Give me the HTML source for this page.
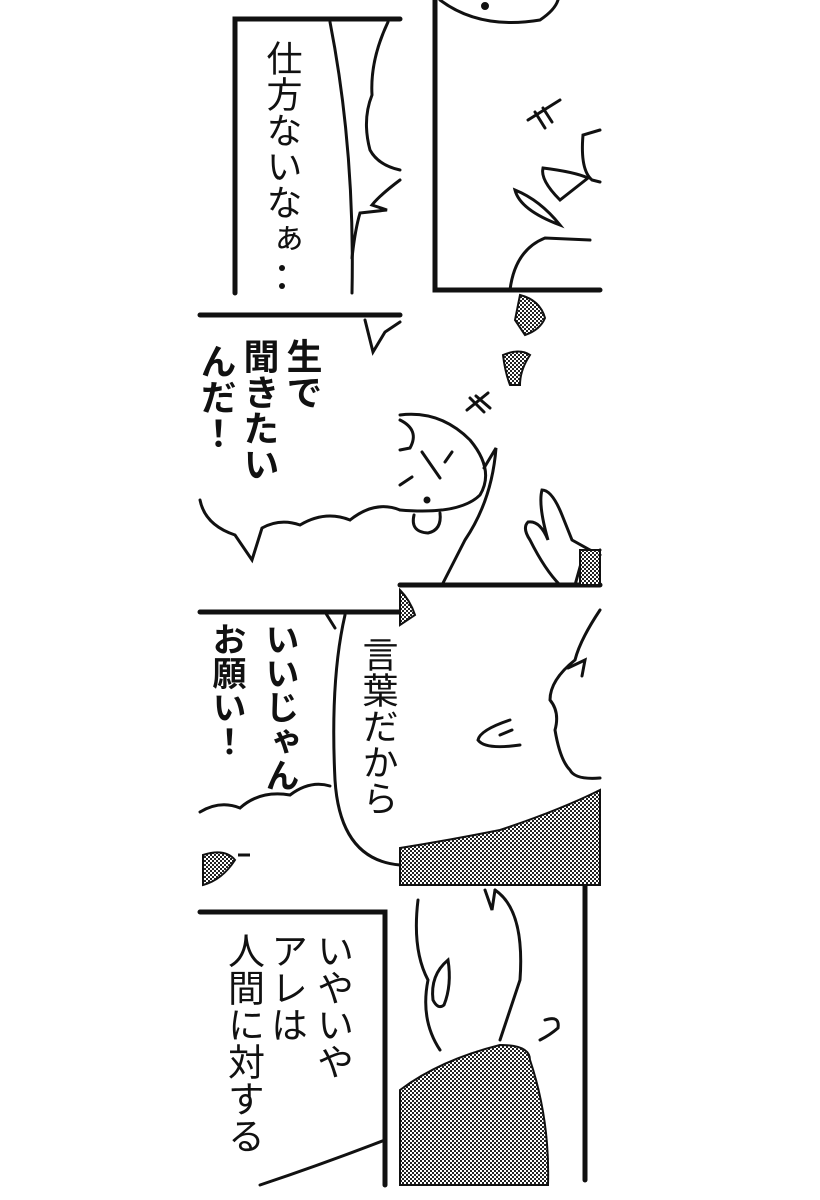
<!DOCTYPE html>
<html><head><meta charset="utf-8"><style>
html,body{margin:0;padding:0;background:#fff;}
svg{display:block}
.t{font-family:"Liberation Sans","Noto Sans CJK JP",sans-serif;writing-mode:vertical-rl;fill:#111;}
</style></head><body>
<svg width="820" height="1200" viewBox="0 0 820 1200" xmlns="http://www.w3.org/2000/svg">
<defs>
<pattern id="ht" width="4" height="4" patternUnits="userSpaceOnUse">
<rect width="4" height="4" fill="#fff"/><rect width="2" height="2" fill="#222"/><rect x="2" y="2" width="2" height="2" fill="#222"/>
</pattern>
</defs>
<rect width="820" height="1200" fill="#fff"/>
<g fill="none" stroke="#111" stroke-width="3" stroke-linecap="round">
<!-- Tile A -->
<path d="M235 293 V19 H400" stroke-width="5"/>
<path d="M330 22 Q355 150 352 293"/>
<path d="M388 22 Q370 60 372 95 Q362 120 370 150 Q378 165 400 170"/>
<path d="M400 180 Q380 195 372 205 L387 210 L360 213 Q355 230 352 258"/>
<!-- Tile B -->
<path d="M435 0 V290 H600" stroke-width="5"/>
<path d="M440 0 Q480 30 540 20 Q555 10 558 0"/>
<circle cx="485" cy="6" r="2.5" fill="#111"/>
<path d="M528 120 L560 100 M535 112 L545 128 M543 108 L552 122"/>
<path d="M600 130 L583 135 Q580 170 592 180 L600 182"/>
<path d="M543 168 Q575 172 588 178 L560 200 Q540 180 543 168 Z"/>
<path d="M515 190 Q520 210 560 225 Q540 200 515 190 Z"/>
<path d="M510 290 Q515 250 545 238 L590 240"/>
<!-- Tile C -->
<path d="M200 315 H400" stroke-width="5"/>
<path d="M365 320 L373 352 L385 332 L400 322"/>
<path d="M200 500 Q205 525 235 535 L252 560 L262 528 Q280 518 300 525 Q325 510 350 520 Q375 500 400 510"/>
<!-- Tile D -->
<path d="M400 585 H600" stroke-width="5"/>
<path d="M400 415 Q440 410 470 440 Q495 470 480 495 Q460 515 400 510"/>
<path d="M400 420 Q420 430 410 448 L400 450"/>
<path d="M422 452 L440 478 M452 452 L445 462 M400 485 L412 477"/>
<circle cx="427" cy="500" r="2" fill="#111"/>
<path d="M414 515 Q410 532 428 533 Q442 530 440 513"/>
<path d="M484 468 L496 448 Q492 500 465 540 L442 585"/>
<path d="M467 410 L488 393 M470 398 L484 412 M476 396 L490 408"/>
<path d="M560 585 Q545 570 530 540 Q522 528 528 522 Q540 520 548 540 Q538 505 542 490 Q552 490 562 515 L572 540 L590 550 L600 555"/>
<path d="M575 585 L582 560 L600 550"/>
<!-- Tile E -->
<path d="M200 612 H400" stroke-width="5"/>
<path d="M325 612 L335 628"/>
<path d="M200 812 Q220 800 240 808 Q260 790 290 795 Q310 780 330 786"/>
<path d="M345 615 Q330 680 335 780 Q340 860 400 865"/>
<!-- Tile F -->
<path d="M600 610 Q580 640 575 660 Q550 680 550 700 Q560 712 555 730 Q560 760 570 770 Q575 780 600 778"/>
<path d="M510 720 Q480 730 478 740 Q485 750 520 745 M500 735 L512 730"/>
<path d="M568 668 L585 660 L582 676"/>
<!-- Tile G -->
<path d="M200 912 H385 V1185" stroke-width="5"/>
<path d="M260 1185 Q320 1165 385 1140"/>
<!-- Tile H -->
<path d="M585 885 V1180" stroke-width="5"/>
<path d="M485 890 L492 910 L495 890"/>
<path d="M495 890 Q525 910 520 980 Q510 1010 500 1040"/>
<path d="M418 900 Q412 950 428 980 Q420 1020 440 1050"/>
<path d="M448 960 Q430 975 433 1000 Q438 1010 444 1005 Q452 985 448 960 Z"/>
<path d="M545 1020 Q560 1015 558 1028 Q550 1035 540 1040"/>
</g>
<!-- halftones -->
<g fill="url(#ht)" stroke="#111" stroke-width="2">
<path d="M400 885 V848 Q450 840 500 830 Q560 810 600 790 V885 Z"/>
<path d="M400 1090 Q440 1060 500 1045 Q530 1045 530 1060 Q550 1120 548 1185 H400 Z"/>
<rect x="580" y="550" width="20" height="35"/>
<path d="M520 295 Q540 300 545 318 Q540 330 525 335 L515 320 Z"/>
<path d="M503 355 Q520 348 530 355 Q520 370 520 385 L510 385 Q505 372 503 355 Z"/>
<path d="M203 855 Q225 848 235 860 Q222 880 203 885 Z"/>
<path d="M400 590 Q410 600 415 615 L400 625 Z"/>
</g>
<g stroke="#111" stroke-width="3"><path d="M238 855 L250 855"/></g>
<!-- texts -->
<text class="t" x="282" y="40" font-size="36">仕方ないなぁ</text>
<circle cx="282" cy="268" r="3" fill="#111"/><circle cx="282" cy="286" r="3" fill="#111"/>
<text class="t" x="302" y="338" font-size="36" font-weight="bold">生で</text>
<text class="t" x="259" y="338" font-size="36" font-weight="bold">聞きたい</text>
<text class="t" x="216" y="343" font-size="36" font-weight="bold">んだ！</text>
<text class="t" x="279" y="622" font-size="34" font-weight="bold">いいじゃん</text>
<text class="t" x="226" y="622" font-size="34" font-weight="bold">お願い！</text>
<text class="t" x="378" y="636" font-size="36">言葉だから</text>
<text class="t" x="332" y="932" font-size="37">いやいや</text>
<text class="t" x="286" y="932" font-size="37">アレは</text>
<text class="t" x="243" y="932" font-size="37">人間に対する</text>
</svg>
</body></html>
